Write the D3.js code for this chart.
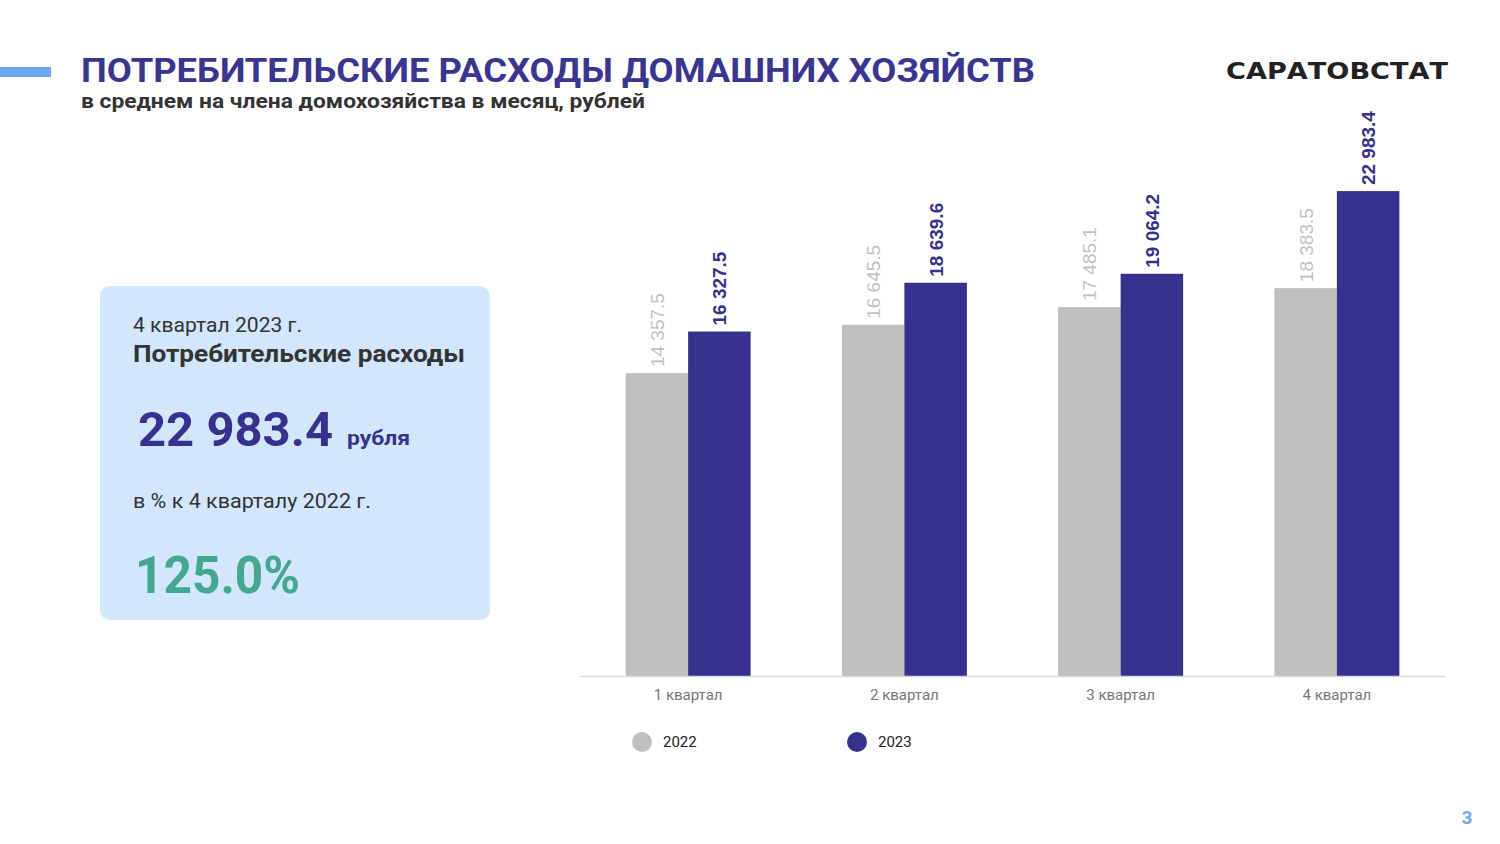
<!DOCTYPE html>
<html><head><meta charset="utf-8">
<script src="https://cdn.jsdelivr.net/npm/d3@7"></script>
<style>body{margin:0;background:#fff}svg{display:block}</style>
</head><body>
<svg id="c" width="1500" height="844"></svg>
<script>
const categories = ["1 квартал","2 квартал","3 квартал","4 квартал"];
const seriesNames = ["2022","2023"];
const values2022 = [14357.5,16645.5,17485.1,18383.5];
const values2023 = [16327.5,18639.6,19064.2,22983.4];
const labels2022 = ["14 357.5","16 645.5","17 485.1","18 383.5"];
const labels2023 = ["16 327.5","18 639.6","19 064.2","22 983.4"];

const F = "Roboto, 'Liberation Sans', Arial, sans-serif";
const svg = d3.select("#c");
const blue = "#37308f", gray = "#bfbfbf";

// header
svg.append("rect").attr("x",0).attr("y",67).attr("width",51).attr("height",10).attr("fill","#6fa8f0");
svg.append("text").attr("x",81).attr("y",82).attr("font-family",F).attr("font-weight","bold")
  .attr("font-size",33).attr("fill","#3a3593").attr("textLength",954).attr("lengthAdjust","spacingAndGlyphs")
  .text("ПОТРЕБИТЕЛЬСКИЕ РАСХОДЫ ДОМАШНИХ ХОЗЯЙСТВ");
svg.append("text").attr("x",81).attr("y",108).attr("font-family",F).attr("font-weight","bold")
  .attr("font-size",20).attr("fill","#333").attr("textLength",564).attr("lengthAdjust","spacingAndGlyphs")
  .text("в среднем на члена домохозяйства в месяц, рублей");
svg.append("text").attr("x",1226).attr("y",79).attr("font-family","'DejaVu Sans', sans-serif").attr("font-weight","bold")
  .attr("font-size",23).attr("fill","#222").attr("textLength",222).attr("lengthAdjust","spacingAndGlyphs")
  .text("САРАТОВСТАТ");
svg.append("text").attr("x",1467).attr("y",824).attr("text-anchor","middle").attr("font-family",F).attr("font-weight","bold")
  .attr("font-size",19).attr("fill","#6fa8f0").text("3");

// info box
svg.append("rect").attr("x",100).attr("y",286).attr("width",390).attr("height",334).attr("rx",10).attr("fill","#d2e6fc");
svg.append("text").attr("x",133).attr("y",332).attr("font-family",F).attr("font-size",20).attr("fill","#333")
  .attr("textLength",169).attr("lengthAdjust","spacingAndGlyphs").text("4 квартал 2023 г.");
svg.append("text").attr("x",133).attr("y",362).attr("font-family",F).attr("font-weight","bold").attr("font-size",23).attr("fill","#333")
  .attr("textLength",332).attr("lengthAdjust","spacingAndGlyphs").text("Потребительские расходы");
svg.append("text").attr("x",138).attr("y",446).attr("font-family",F).attr("font-weight","bold").attr("font-size",48).attr("fill",blue)
  .attr("textLength",195).attr("lengthAdjust","spacingAndGlyphs").text(labels2023[3]);
svg.append("text").attr("x",347).attr("y",445).attr("font-family",F).attr("font-weight","bold").attr("font-size",20).attr("fill",blue)
  .attr("textLength",63).attr("lengthAdjust","spacingAndGlyphs").text("рубля");
svg.append("text").attr("x",133).attr("y",508).attr("font-family",F).attr("font-size",20).attr("fill","#333")
  .attr("textLength",238).attr("lengthAdjust","spacingAndGlyphs").text("в % к 4 кварталу 2022 г.");
svg.append("text").attr("x",135).attr("y",593).attr("font-family",F).attr("font-weight","bold").attr("font-size",52).attr("fill","#44a78f")
  .attr("textLength",165).attr("lengthAdjust","spacingAndGlyphs").text("125.0%");

// chart
const x = d3.scaleBand().domain(categories).range([580,1445]).paddingInner(0.422).paddingOuter(0.211);
const xs = d3.scaleBand().domain(seriesNames).range([0,x.bandwidth()]);
const y = d3.scaleLinear().domain([0,25500]).range([676,138]);
const data = categories.map((c,i)=>({c, vals:[
  {s:"2022",v:values2022[i],l:labels2022[i]},
  {s:"2023",v:values2023[i],l:labels2023[i]}]}));
const g = svg.append("g");
const grp = g.selectAll("g.q").data(data).join("g").attr("transform",d=>`translate(${x(d.c)},0)`);
grp.selectAll("rect").data(d=>d.vals).join("rect")
  .attr("x",d=>xs(d.s)).attr("width",xs.bandwidth())
  .attr("y",d=>y(d.v)).attr("height",d=>y(0)-y(d.v))
  .attr("fill",d=>d.s==="2022"?gray:blue);
grp.selectAll("text").data(d=>d.vals).join("text")
  .attr("transform",d=>`translate(${xs(d.s)+xs.bandwidth()/2+7},${y(d.v)-6}) rotate(-90)`)
  .attr("font-family","'Liberation Sans', Arial, sans-serif").attr("font-size",19)
  .attr("font-weight",d=>d.s==="2023"?"bold":"normal")
  .attr("fill",d=>d.s==="2022"?gray:blue).text(d=>d.l);

const ax = svg.append("g").attr("transform","translate(0,676)").call(d3.axisBottom(x).tickSize(0).tickPadding(13));
ax.select(".domain").attr("stroke","#d9d9d9").attr("stroke-width",1.5);
ax.selectAll("text").attr("font-family",F).attr("font-size",15).attr("fill","#777");

// legend
const lx = [642,857];
const leg = svg.append("g").selectAll("g").data(seriesNames).join("g").attr("transform",(d,i)=>`translate(${lx[i]},742)`);
leg.append("circle").attr("r",10).attr("fill",(d,i)=>i?blue:gray);
leg.append("text").attr("x",21).attr("y",5).attr("font-family",F).attr("font-size",15).attr("fill","#222").text(d=>d);
</script>
</body></html>
